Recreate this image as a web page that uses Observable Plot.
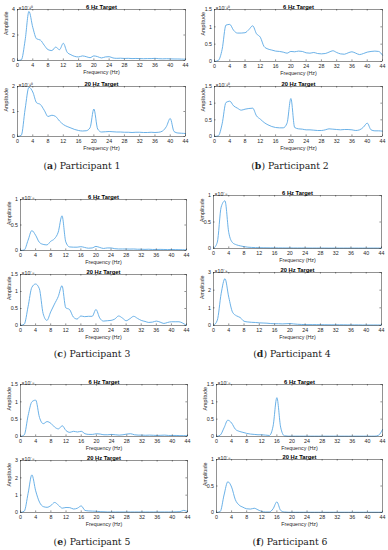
<!DOCTYPE html>
<html><head><meta charset="utf-8">
<script src="https://cdn.jsdelivr.net/npm/d3@7"></script>
<script src="https://cdn.jsdelivr.net/npm/@observablehq/plot@0.6"></script>
<style>
body{margin:0;background:#fff;}
#fig{position:relative;width:388px;height:550px;overflow:hidden;background:#fff;}
.cap{position:absolute;font-family:"DejaVu Serif",serif;font-size:9.3px;color:#222;transform:translate(-50%,-50%);white-space:nowrap;line-height:1}
</style></head><body><div id="fig"></div>
<script>
const freq = [0,1,2,3,4,5,6,7,8,9,10,11,12,13,14,15,16,17,18,19,20,21,22,23,24,25,26,27,28,29,30,31,32,33,34,35,36,37,38,39,40,41,42,43,44];
const xTicks = [0,4,8,12,16,20,24,28,32,36,40,44];

const p1_6  = [0,0.05,1.6,3.85,2.6,1.7,1.6,1.2,0.85,0.78,1.05,0.85,1.35,0.65,0.45,0.32,0.28,0.36,0.3,0.22,0.36,0.3,0.2,0.28,0.3,0.2,0.17,0.18,0.16,0.17,0.15,0.16,0.15,0.14,0.15,0.15,0.17,0.14,0.13,0.14,0.13,0.12,0.12,0.11,0.1];
const p1_20 = [0,0.05,1.1,1.97,1.78,1.35,1.28,1.05,0.8,0.85,0.8,0.62,0.48,0.4,0.34,0.28,0.24,0.22,0.23,0.35,1.1,0.3,0.18,0.19,0.2,0.19,0.18,0.18,0.17,0.17,0.16,0.17,0.17,0.16,0.16,0.17,0.16,0.17,0.22,0.4,0.72,0.2,0.14,0.13,0.12];
const p2_6  = [0,0.03,0.35,1.05,1.07,0.9,0.82,0.82,0.83,0.92,1.03,0.8,0.7,0.43,0.36,0.33,0.3,0.29,0.27,0.24,0.29,0.28,0.3,0.29,0.25,0.24,0.26,0.23,0.22,0.23,0.27,0.31,0.26,0.22,0.21,0.25,0.28,0.24,0.2,0.23,0.27,0.29,0.3,0.29,0.18];
const p2_20 = [0,0.02,0.38,1.02,1.06,0.92,0.85,0.79,0.82,0.84,0.85,0.62,0.52,0.42,0.35,0.3,0.27,0.26,0.26,0.4,1.14,0.27,0.23,0.22,0.2,0.2,0.19,0.18,0.18,0.2,0.23,0.22,0.21,0.2,0.21,0.21,0.2,0.18,0.2,0.28,0.4,0.2,0.17,0.17,0.16];
const p3_6  = [0,0.01,0.2,0.39,0.3,0.16,0.12,0.11,0.18,0.23,0.36,0.68,0.17,0.07,0.065,0.065,0.075,0.06,0.045,0.05,0.08,0.06,0.04,0.05,0.05,0.035,0.03,0.03,0.03,0.028,0.03,0.025,0.025,0.022,0.025,0.02,0.02,0.022,0.02,0.018,0.02,0.018,0.016,0.015,0.015];
const p3_20 = [0,0.04,0.55,1.12,1.22,1.08,0.35,0.15,0.4,0.63,0.85,1.17,0.52,0.47,0.25,0.19,0.28,0.26,0.27,0.27,0.47,0.22,0.13,0.14,0.15,0.19,0.28,0.22,0.14,0.2,0.27,0.21,0.15,0.12,0.09,0.1,0.13,0.1,0.06,0.09,0.11,0.11,0.11,0.07,0];
const p4_6  = [0,0.12,0.78,0.9,0.3,0.11,0.07,0.05,0.035,0.025,0.02,0.017,0.015,0.014,0.013,0.012,0.012,0.011,0.011,0.01,0.011,0.01,0.01,0.01,0.01,0.009,0.009,0.009,0.009,0.009,0.008,0.008,0.008,0.008,0.008,0.008,0.008,0.008,0.008,0.008,0.008,0.008,0.008,0.008,0.008];
const p4_20 = [0,0.3,1.8,2.65,1.6,0.75,0.55,0.45,0.24,0.2,0.18,0.17,0.15,0.14,0.13,0.11,0.1,0.1,0.09,0.1,0.11,0.09,0.07,0.06,0.05,0.05,0.05,0.05,0.045,0.045,0.04,0.04,0.04,0.04,0.04,0.035,0.035,0.035,0.035,0.03,0.03,0.03,0.03,0.03,0.03];
const p5_6  = [0,0.05,0.6,1.0,1.05,0.55,0.37,0.43,0.38,0.27,0.22,0.31,0.17,0.12,0.15,0.13,0.15,0.08,0.06,0.06,0.08,0.07,0.05,0.05,0.06,0.05,0.04,0.05,0.07,0.08,0.05,0.04,0.04,0.035,0.04,0.035,0.03,0.035,0.04,0.03,0.03,0.03,0.025,0.025,0.025];
const p5_20 = [0,0.08,1.1,2.17,1.25,0.6,0.34,0.3,0.4,0.58,0.42,0.25,0.29,0.28,0.2,0.25,0.38,0.12,0.09,0.08,0.07,0.05,0.04,0.03,0.03,0.03,0.03,0.03,0.03,0.03,0.03,0.03,0.03,0.03,0.03,0.03,0.03,0.03,0.03,0.03,0.03,0.04,0.05,0.12,0.05];
const p6_6  = [0,0.04,0.25,0.47,0.39,0.21,0.15,0.12,0.09,0.07,0.06,0.05,0.05,0.04,0.03,0.3,1.12,0.27,0.02,0.01,0.01,0.01,0.01,0.01,0.01,0.01,0.01,0.01,0.01,0.01,0.01,0.01,0.01,0.01,0.01,0.01,0.01,0.01,0.01,0.01,0.01,0.01,0.01,0.04,0.2];
const p6_20 = [0,0.02,0.33,0.58,0.48,0.24,0.14,0.1,0.07,0.065,0.08,0.05,0.02,0.01,0.01,0.07,0.2,0.04,0.01,0.005,0.005,0.005,0.005,0.005,0.005,0.005,0.005,0.005,0.005,0.005,0.005,0.005,0.005,0.005,0.005,0.005,0.005,0.005,0.005,0.005,0.005,0.005,0.005,0.005,0.005];

const titles = ["6 Hz Target", "20 Hz Target"];
const captions = [["a","Participant 1"],["b","Participant 2"],["c","Participant 3"],["d","Participant 4"],["e","Participant 5"],["f","Participant 6"]];

const LINE = "#5aa8e4", INK = "#262626";
const M = {top: 12, right: 4, bottom: 20, left: 18};
const fig = document.getElementById("fig");

function sub(s) {
  const w = s.x1 - s.x0, h = s.y1 - s.y0;
  const ymax = s.yTicks[s.yTicks.length - 1];
  const data = freq.map((f, i) => ({f, a: s.values[i]}));
  const tx = ymax * 1.6 / h, ty = 44 * 1.6 / w;
  const p = Plot.plot({
    width: w + M.left + M.right, height: h + M.top + M.bottom,
    marginTop: M.top, marginRight: M.right, marginBottom: M.bottom, marginLeft: M.left,
    x: {domain: [0, 44]}, y: {domain: [0, ymax]},
    style: {fontFamily: "'Liberation Sans', Arial, sans-serif", fontSize: "5.3px", color: INK, background: "transparent", overflow: "visible"},
    marks: [
      Plot.line(data, {x: "f", y: "a", stroke: LINE, strokeWidth: 0.9, curve: "monotone-x"}),
      Plot.ruleX(xTicks, {x: d => d, y1: 0, y2: tx, stroke: INK, strokeWidth: 0.5}),
      Plot.ruleX(xTicks, {x: d => d, y1: ymax - tx, y2: ymax, stroke: INK, strokeWidth: 0.5}),
      Plot.ruleY(s.yTicks, {y: d => d, x1: 0, x2: ty, stroke: INK, strokeWidth: 0.5}),
      Plot.ruleY(s.yTicks, {y: d => d, x1: 44 - ty, x2: 44, stroke: INK, strokeWidth: 0.5}),
      Plot.frame({stroke: INK, strokeWidth: 0.5}),
      Plot.axisX(xTicks, {tickSize: 0, tickPadding: 2.5, label: null, fontSize: 5.3, tickFormat: d => String(d)}),
      Plot.axisY(s.yTicks, {tickSize: 0, tickPadding: 2.5, label: null, fontSize: 5.3, tickFormat: d => String(d)}),
      Plot.text([s.title], {text: d => d, frameAnchor: "top", dy: -4.5, fontWeight: "bold", fontSize: 5.8, fill: "#000"}),
      Plot.text(["Frequency (Hz)"], {text: d => d, frameAnchor: "bottom", dy: 13.5, fontSize: 5.3}),
      Plot.text(["Amplitude"], {text: d => d, frameAnchor: "left", dx: -11, rotate: -90, fontSize: 5.3}),
      Plot.text([s.exp], {text: d => d, frameAnchor: "top-left", dx: 1, dy: -3.5, textAnchor: "start", fontSize: 5.2})
    ]
  });
  p.style.position = "absolute";
  p.style.left = (s.x0 - M.left) + "px";
  p.style.top = (s.y0 - M.top) + "px";
  fig.appendChild(p);
}

function caption(i, cx, cy) {
  const d = document.createElement("div");
  d.className = "cap";
  d.innerHTML = "(<b>" + captions[i][0] + "</b>) " + captions[i][1];
  d.style.left = cx + "px"; d.style.top = cy + "px";
  fig.appendChild(d);
}

const E10 = "×10⁻¹⁰", E8 = "×10⁻⁸", E9 = "×10⁻⁹";
// Participant 1
sub({values: p1_6,  yTicks: [0,2,4],         title: titles[0], exp: E10, x0: 17,  x1: 185, y0: 9,   y1: 60});
sub({values: p1_20, yTicks: [0,1,2],         title: titles[1], exp: E10, x0: 17,  x1: 185, y0: 86,  y1: 136});
caption(0, 82, 166);
// Participant 2
sub({values: p2_6,  yTicks: [0,0.5,1,1.5],   title: titles[0], exp: E10, x0: 214, x1: 382, y0: 9,   y1: 61});
sub({values: p2_20, yTicks: [0,0.5,1,1.5],   title: titles[1], exp: E10, x0: 214, x1: 382, y0: 86,  y1: 136});
caption(1, 290, 166);
// Participant 3
sub({values: p3_6,  yTicks: [0,0.5,1],       title: titles[0], exp: E8,  x0: 20,  x1: 186, y0: 199, y1: 250});
sub({values: p3_20, yTicks: [0,0.5,1,1.5],   title: titles[1], exp: E8,  x0: 20,  x1: 186, y0: 274, y1: 325});
caption(2, 92, 354);
// Participant 4
sub({values: p4_6,  yTicks: [0,0.5,1],       title: titles[0], exp: E8,  x0: 213, x1: 381, y0: 195, y1: 248});
sub({values: p4_20, yTicks: [0,1,2,3],       title: titles[1], exp: E9,  x0: 213, x1: 381, y0: 272, y1: 325});
caption(3, 292, 354);
// Participant 5
sub({values: p5_6,  yTicks: [0,0.5,1,1.5],   title: titles[0], exp: E8,  x0: 20,  x1: 187, y0: 384, y1: 436});
sub({values: p5_20, yTicks: [0,1,2,3],       title: titles[1], exp: E8,  x0: 20,  x1: 187, y0: 460, y1: 512});
caption(4, 92, 542);
// Participant 6
sub({values: p6_6,  yTicks: [0,0.5,1,1.5],   title: titles[0], exp: E8,  x0: 216, x1: 382, y0: 384, y1: 436});
sub({values: p6_20, yTicks: [0,0.5,1],       title: titles[1], exp: E8,  x0: 216, x1: 382, y0: 459, y1: 512});
caption(5, 290, 542);
</script></body></html>
